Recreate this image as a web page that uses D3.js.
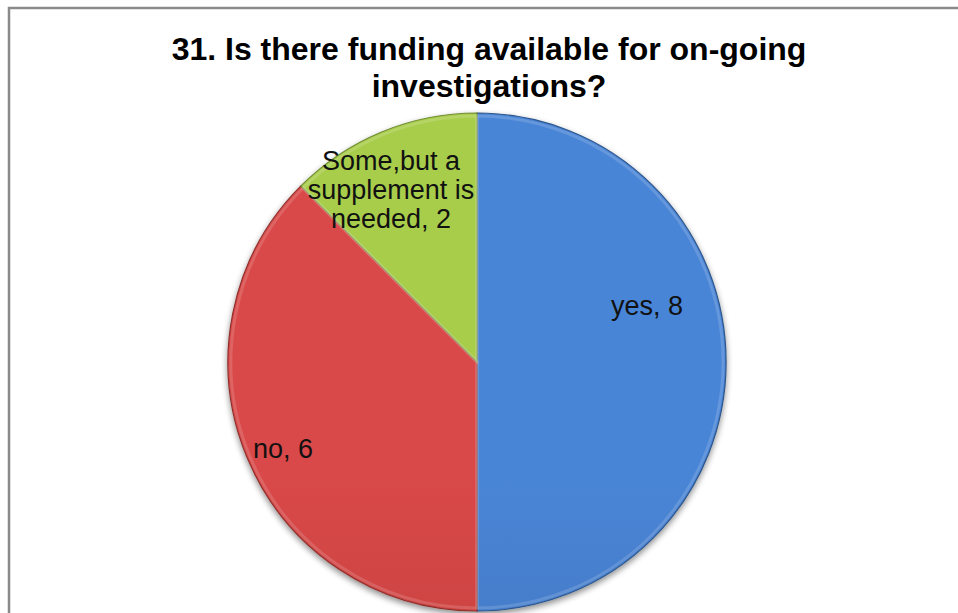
<!DOCTYPE html>
<html>
<head>
<meta charset="utf-8">
<script src="https://cdn.jsdelivr.net/npm/d3@7"></script>
<style>
  html, body { margin: 0; padding: 0; background: #fff; }
  svg { display: block; }
</style>
</head>
<body>
<svg id="chart" width="958" height="613"></svg>
<script>
// Survey answers, question 31
const categories = ["yes", "no", "Some,but a supplement is needed"];
const values = [8, 6, 2];
const labelLines = [["yes, 8"], ["no, 6"], ["Some,but a", "supplement is", "needed, 2"]];
const titleLines = ["31. Is there funding available for on-going", "investigations?"];

const colorsTop = ["#4a85d6", "#d94848", "#a8cd4c"];
const colorsBottom = ["#386aae", "#b23a36", "#8caf3e"];

const W = 958, H = 613;
const cx = 477, cy = 362, R = 249;

const svg = d3.select("#chart");
const defs = svg.append("defs");

// Frame of the chart area
svg.append("rect")
  .attr("x", 9).attr("y", 8)
  .attr("width", W + 20).attr("height", H + 20)
  .attr("fill", "#fff")
  .attr("stroke", "#8a8a8a").attr("stroke-width", 2.5);

// Title
svg.append("text")
  .attr("text-anchor", "middle")
  .attr("font-family", "Liberation Sans, Arial, sans-serif")
  .attr("font-weight", "bold")
  .attr("font-size", 32)
  .attr("fill", "#000")
  .selectAll("tspan").data(titleLines).join("tspan")
  .attr("x", 489)
  .attr("y", (d, i) => i === 0 ? 60 : 97)
  .text(d => d);

// Soft shadow underneath the pie
const shadow = defs.append("filter").attr("id", "shadow")
  .attr("x", "-20%").attr("y", "-20%").attr("width", "140%").attr("height", "140%");
shadow.append("feGaussianBlur").attr("in", "SourceAlpha").attr("stdDeviation", 3).attr("result", "b");
shadow.append("feOffset").attr("in", "b").attr("dx", 0).attr("dy", 3).attr("result", "o");
shadow.append("feComponentTransfer").attr("in", "o").attr("result", "s")
  .append("feFuncA").attr("type", "linear").attr("slope", 0.45);
const merge = shadow.append("feMerge");
merge.append("feMergeNode").attr("in", "s");
merge.append("feMergeNode").attr("in", "SourceGraphic");

// Vertical shading per slice colour
colorsTop.forEach((c, i) => {
  const g = defs.append("linearGradient").attr("id", "grad" + i)
    .attr("gradientUnits", "userSpaceOnUse")
    .attr("x1", 0).attr("y1", cy - R).attr("x2", 0).attr("y2", cy + R);
  g.append("stop").attr("offset", "0%").attr("stop-color", c);
  g.append("stop").attr("offset", "100%").attr("stop-color", colorsBottom[i]);
});

const pie = d3.pie().sort(null).value(d => d);
const arcs = pie(values);
const arc = d3.arc().innerRadius(0).outerRadius(R);
const bevel = d3.arc().innerRadius(0).outerRadius(R - 3);

const g = svg.append("g").attr("transform", `translate(${cx},${cy})`);

g.append("g").attr("filter", "url(#shadow)")
  .selectAll("path").data(arcs).join("path")
  .attr("d", arc)
  .attr("fill", (d, i) => `url(#grad${i})`)
  .attr("stroke", (d, i) => d3.color(colorsBottom[i]).darker(0.6))
  .attr("stroke-width", 1.2);

// Light inner rim for the bevelled look
g.selectAll("path.rim").data(arcs).join("path")
  .attr("class", "rim")
  .attr("d", bevel)
  .attr("fill", "none")
  .attr("stroke", "#fff")
  .attr("stroke-opacity", 0.15)
  .attr("stroke-width", 3);

// Data labels
const labelPos = [[170, -56], [-194, 87], [-86, -172]];
g.selectAll("text.lbl").data(arcs).join("text")
  .attr("class", "lbl")
  .attr("text-anchor", "middle")
  .attr("font-family", "Liberation Sans, Arial, sans-serif")
  .attr("font-size", 27)
  .attr("fill", "#111")
  .each(function (d, i) {
    const lines = labelLines[i];
    const [lx, ly] = labelPos[i];
    const t = d3.select(this).attr("transform", `translate(${lx},${ly})`);
    const lh = 29;
    const off = -(lines.length - 1) * lh / 2 + 9;
    t.selectAll("tspan").data(lines).join("tspan")
      .attr("x", 0)
      .attr("y", (l, k) => off + k * lh)
      .text(l => l);
  });
</script>
</body>
</html>
